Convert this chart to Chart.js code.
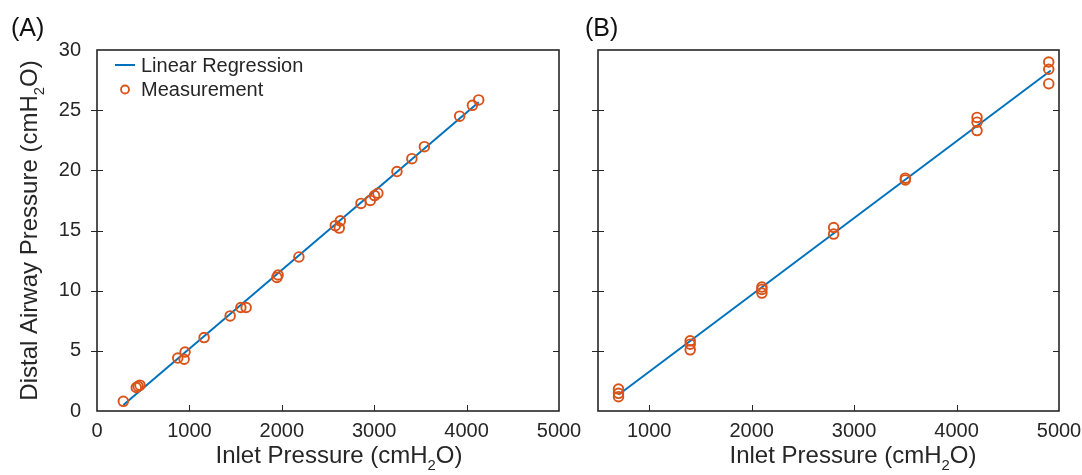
<!DOCTYPE html>
<html>
<head>
<meta charset="utf-8">
<script src="https://cdn.jsdelivr.net/npm/chart.js@4.4.1/dist/chart.umd.min.js"></script>
<style>
html, body { margin: 0; padding: 0; background: #fff; }
#wrap { position: relative; width: 1082px; height: 475px; }
.pane { position: absolute; top: 0; height: 475px; }
</style>
</head>
<body>
<div id="wrap">
  <div class="pane" style="left:0;width:582px"><canvas id="chartA" width="582" height="475"></canvas></div>
  <div class="pane" style="left:575px;width:507px"><canvas id="chartB" width="507" height="475"></canvas></div>
</div>
<script>
// panel A measurements
const inletA = [285, 425, 445, 465, 874, 943, 953, 1159, 1441, 1557, 1614, 1947, 1960, 2185, 2579, 2622, 2633, 2857, 2958, 3004, 3040, 3246, 3408, 3543, 3925, 4063, 4131]
const distalA = [0.8, 1.95, 2.05, 2.15, 4.4, 4.3, 4.9, 6.1, 7.9, 8.6, 8.6, 11.1, 11.3, 12.8, 15.4, 15.2, 15.8, 17.25, 17.5, 17.9, 18.1, 19.9, 20.97, 21.97, 24.5, 25.4, 25.85]
// regression end points
const fitInletA = [285, 4131]
const fitDistalA = [0.5, 25.65]

// panel B measurements
const inletB = [700, 700, 700, 1400, 1400, 1400, 2100, 2100, 2100, 2800, 2800, 3500, 3500, 4200, 4200, 4200, 4900, 4900, 4900]
const distalB = [1.83, 1.47, 1.19, 5.83, 5.55, 5.08, 10.3, 10.1, 9.8, 15.25, 14.7, 19.35, 19.2, 24.4, 24.0, 23.3, 29.0, 28.4, 27.2]
const fitInletB = [700, 4920]
const fitDistalB = [1.35, 28.3]

const xTicks = [0, 1000, 2000, 3000, 4000, 5000]
const yTicks = [0, 5, 10, 15, 20, 25, 30]

const blue = '#0072BD'
const orange = '#D95319'
const ink = '#262626'
const fontFam = '"Liberation Sans", Arial, Helvetica, sans-serif'

const toPoints = (xs, ys) => xs.map((v, i) => ({ x: v, y: ys[i] }))

// text with a subscript part, centered on (0,0) baseline
const drawSubText = (ctx, parts, size) => {
    const sub = size * 0.62
    let total = 0
    parts.forEach(p => {
        ctx.font = `${p[1] ? sub : size}px ${fontFam}`
        total += ctx.measureText(p[0]).width
    })
    let cx = -total / 2
    ctx.textAlign = 'left'
    ctx.textBaseline = 'alphabetic'
    parts.forEach(p => {
        ctx.font = `${p[1] ? sub : size}px ${fontFam}`
        ctx.fillText(p[0], cx, p[1] ? size * 0.28 : 0)
        cx += ctx.measureText(p[0]).width
    })
}

const framePlugin = {
    id: 'frame',
    afterDraw(chart, args, opts) {
        const { ctx, chartArea: a, scales: { x, y } } = chart
        ctx.save()
        ctx.strokeStyle = ink
        ctx.lineWidth = 1
        ctx.beginPath()
        x.ticks.forEach(t => {
            if (t.value <= x.min || t.value >= x.max) return
            const px = Math.round(x.getPixelForValue(t.value)) + 0.5
            ctx.moveTo(px, a.bottom)
            ctx.lineTo(px, a.bottom - 6)
        })
        y.ticks.forEach(t => {
            if (t.value <= y.min || t.value >= y.max) return
            const py = Math.round(y.getPixelForValue(t.value)) + 0.5
            ctx.moveTo(a.left - opts.leftOut, py)
            ctx.lineTo(a.left + 6, py)
            ctx.moveTo(a.right, py)
            ctx.lineTo(a.right - 6, py)
        })
        ctx.stroke()
        ctx.lineWidth = 1.6
        ctx.strokeRect(a.left, a.top, a.right - a.left, a.bottom - a.top)

        ctx.fillStyle = '#111'
        // panel letter
        ctx.font = `25px ${fontFam}`
        ctx.textAlign = 'left'
        ctx.textBaseline = 'alphabetic'
        ctx.fillText(opts.letter, opts.letterX, 36)

        // x title
        ctx.fillStyle = ink
        ctx.save()
        ctx.translate(opts.xTitleX, 463)
        drawSubText(ctx, [['Inlet Pressure (cmH', 0], ['2', 1], ['O)', 0]], 24)
        ctx.restore()

        if (opts.yTitle) {
            ctx.save()
            ctx.translate(37, (a.top + a.bottom) / 2)
            ctx.rotate(-Math.PI / 2)
            drawSubText(ctx, [['Distal Airway Pressure (cmH', 0], ['2', 1], ['O)', 0]], 24)
            ctx.restore()
        }

        if (opts.legend) {
            const lineSet = chart.data.datasets[0]
            const dotSet = chart.data.datasets[1]
            ctx.strokeStyle = lineSet.borderColor
            ctx.lineWidth = 2
            ctx.beginPath()
            ctx.moveTo(115, 65)
            ctx.lineTo(135, 65)
            ctx.stroke()
            ctx.strokeStyle = dotSet.borderColor
            ctx.lineWidth = 1.8
            ctx.beginPath()
            ctx.arc(125, 89.5, 4, 0, Math.PI * 2)
            ctx.stroke()
            ctx.fillStyle = ink
            ctx.font = `20px ${fontFam}`
            ctx.textAlign = 'left'
            ctx.textBaseline = 'middle'
            ctx.fillText(lineSet.label, 141, 66)
            ctx.fillText(dotSet.label, 141, 90)
        }
        ctx.restore()
    }
}

const makeChart = (id, cfg) => {
    const context = document.getElementById(id).getContext('2d')
    return new Chart(context, {
        type: 'scatter',
        data: {
            datasets: [
                {
                    label: 'Linear Regression',
                    data: toPoints(cfg.fitX, cfg.fitY),
                    showLine: true,
                    borderColor: blue,
                    borderWidth: 2,
                    pointRadius: 0,
                    order: 1
                },
                {
                    label: 'Measurement',
                    data: toPoints(cfg.xs, cfg.ys),
                    pointStyle: 'circle',
                    pointRadius: 4.8,
                    pointBorderWidth: 1.9,
                    borderColor: orange,
                    backgroundColor: 'rgba(0,0,0,0)',
                    order: 0
                }
            ]
        },
        options: {
            responsive: false,
            animation: false,
            layout: { padding: { top: 50, right: cfg.padRight, bottom: 0, left: 0 } },
            plugins: {
                legend: { display: false },
                tooltip: { enabled: false },
                frame: cfg.frame
            },
            scales: {
                x: {
                    type: 'linear',
                    min: cfg.xMin,
                    max: 5000,
                    afterBuildTicks: s => { s.ticks = xTicks.filter(v => v >= s.min).map(v => ({ value: v })) },
                    afterFit: s => { s.height = 64 },
                    grid: { display: false },
                    border: { display: false },
                    ticks: { color: ink, padding: 0, maxRotation: 0, callback: v => String(v), font: { family: fontFam, size: 20 } }
                },
                y: {
                    min: 0,
                    max: 30,
                    afterBuildTicks: s => { s.ticks = yTicks.map(v => ({ value: v })) },
                    afterFit: s => { s.width = cfg.yWidth },
                    grid: { display: false },
                    border: { display: false },
                    ticks: { display: cfg.yLabels, color: ink, padding: 8, callback: v => String(v), font: { family: fontFam, size: 20 } }
                }
            }
        },
        plugins: [framePlugin]
    })
}

const chartA = makeChart('chartA', {
    xs: inletA, ys: distalA, fitX: fitInletA, fitY: fitDistalA,
    xMin: 0, yWidth: 97, padRight: 23, yLabels: true,
    frame: { letter: '(A)', letterX: 11, xTitleX: 339, yTitle: true, legend: true, leftOut: 6 }
})

const chartB = makeChart('chartB', {
    xs: inletB, ys: distalB, fitX: fitInletB, fitY: fitDistalB,
    xMin: 500, yWidth: 23, padRight: 23, yLabels: false,
    frame: { letter: '(B)', letterX: 10, xTitleX: 278, yTitle: false, legend: false, leftOut: 6 }
})
</script>
</body>
</html>
